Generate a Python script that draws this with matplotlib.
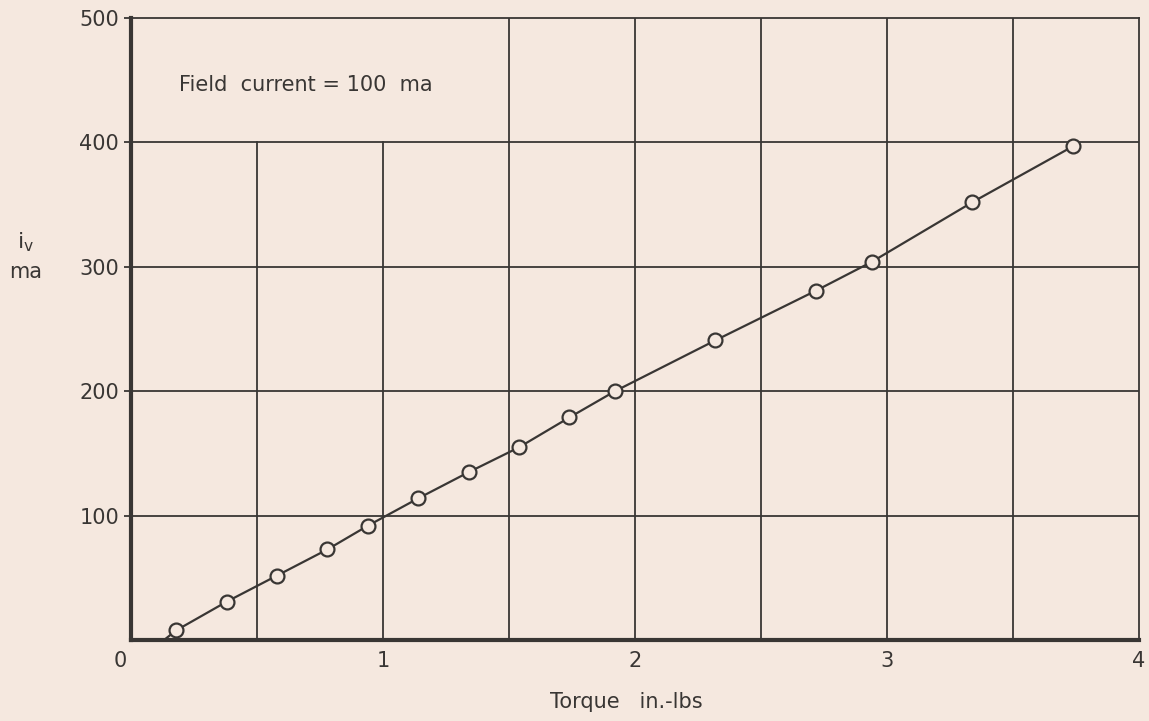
import matplotlib
matplotlib.use("Agg")
import matplotlib.pyplot as plt
import matplotlib.transforms as mtransforms

# measured points (torque in.-lbs, i_v ma)
torque = [0.18, 0.38, 0.58, 0.78, 0.94, 1.14, 1.34, 1.54, 1.74, 1.92,
          2.32, 2.72, 2.94, 3.34, 3.74]
iv = [8, 31, 52, 73, 92, 114, 135, 155, 179, 200,
      241, 281, 304, 352, 397]

# faired curve drawn through the points, from the x axis
curve_torque = [0.13] + torque
curve_iv = [0] + iv

x_ticks = [0, 1, 2, 3, 4]
y_ticks = [100, 200, 300, 400, 500]
note = "Field  current = 100  ma"

paper = "#f5e8df"
ink = "#393634"

plt.rcParams["font.family"] = ["DejaVu Sans"]
plt.rcParams["mathtext.default"] = "regular"

fig = plt.figure(figsize=(11.49, 7.21), dpi=100, facecolor=paper)
ax = fig.add_axes([0.114, 0.112, 0.877, 0.863])
ax.set_facecolor(paper)
ax.set_xlim(0, 4)
ax.set_ylim(0, 500)

# grid, with the note box left clear in the upper left corner
for gx in [0.5, 1.0]:
    ax.plot([gx, gx], [0, 400], color=ink, lw=1.3, zorder=1)
for gx in [1.5, 2.0, 2.5, 3.0, 3.5]:
    ax.plot([gx, gx], [0, 500], color=ink, lw=1.3, zorder=1)
for gy in [100, 200, 300, 400]:
    ax.plot([0, 4], [gy, gy], color=ink, lw=1.3, zorder=1)

ax.plot(curve_torque, curve_iv, color=ink, lw=1.6, zorder=2)
ax.plot(torque, iv, "o", ms=10, mfc=paper, mec=ink, mew=1.6, zorder=3)

for side in ["left", "bottom"]:
    ax.spines[side].set_linewidth(3)
for side in ["top", "right"]:
    ax.spines[side].set_linewidth(1.3)
for sp in ax.spines.values():
    sp.set_color(ink)

ax.set_xticks(x_ticks)
ax.set_yticks(y_ticks)
ax.tick_params(axis="both", length=5, width=1.3, color=ink,
               labelcolor=ink, labelsize=15)
ax.tick_params(axis="x", length=0, pad=8)

# the "0" sits a little to the left of the origin, as on the original
lbl0 = ax.get_xticklabels()[0]
lbl0.set_transform(lbl0.get_transform() +
                   mtransforms.ScaledTranslation(-0.11, 0, fig.dpi_scale_trans))

ax.text(0.19, 446, note, fontsize=15, color=ink, va="center")

fig.text(0.022, 0.655, "i$_v$", fontsize=16, color=ink, ha="center")
fig.text(0.022, 0.615, "ma", fontsize=15, color=ink, ha="center")
fig.text(0.545, 0.026, "Torque   in.-lbs", fontsize=15, color=ink,
         ha="center", va="center")

fig.savefig("out.png", dpi=100, facecolor=paper)
